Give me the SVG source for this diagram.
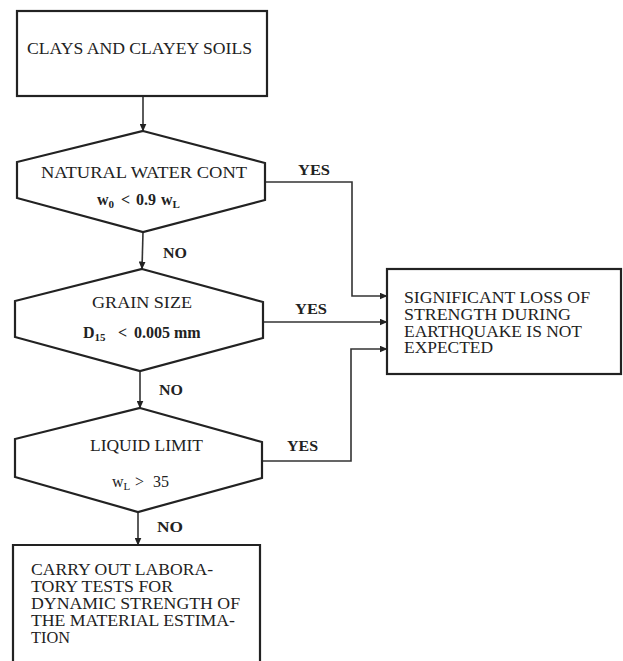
<svg xmlns="http://www.w3.org/2000/svg" width="623" height="661" viewBox="0 0 623 661">
<defs>
<marker id="arr" markerWidth="8" markerHeight="7" refX="7.5" refY="3.5" orient="auto" markerUnits="userSpaceOnUse">
<path d="M0,0 L8,3.5 L0,7 Z" fill="#222"/>
</marker>
<style>
.shape{fill:#fff;stroke:#222;stroke-width:2.2;stroke-linejoin:miter}
.conn{fill:none;stroke:#333;stroke-width:1.6}
.t{font-family:"Liberation Serif","Times New Roman",serif;fill:#222;font-size:16px}
.lbl{font-family:"Liberation Serif","Times New Roman",serif;fill:#222;font-size:15px;font-weight:bold}
.f{font-family:"Liberation Serif","Times New Roman",serif;fill:#222;font-size:16px;font-weight:bold}
.sub{font-size:11px}
</style>
</defs>
<rect width="623" height="661" fill="#fff"/>
<g id="connectors">
<line class="conn" x1="143" y1="96" x2="143" y2="131" marker-end="url(#arr)"/>
<line class="conn" x1="143" y1="232" x2="142" y2="269" marker-end="url(#arr)"/>
<line class="conn" x1="140" y1="371" x2="140" y2="408" marker-end="url(#arr)"/>
<line class="conn" x1="138" y1="512" x2="138" y2="545" marker-end="url(#arr)"/>
<polyline class="conn" points="265,182 352,182 352,296 387,296" marker-end="url(#arr)"/>
<line class="conn" x1="263" y1="322" x2="387" y2="322" marker-end="url(#arr)"/>
<polyline class="conn" points="263,461 351,461 351,349 387,349" marker-end="url(#arr)"/>
<text class="lbl" x="298" y="175" textLength="32" lengthAdjust="spacingAndGlyphs">YES</text>
<text class="lbl" x="295" y="314" textLength="32" lengthAdjust="spacingAndGlyphs">YES</text>
<text class="lbl" x="287" y="451" textLength="31" lengthAdjust="spacingAndGlyphs">YES</text>
<text class="lbl" x="163" y="258" textLength="24" lengthAdjust="spacingAndGlyphs">NO</text>
<text class="lbl" x="159" y="395" textLength="24" lengthAdjust="spacingAndGlyphs">NO</text>
<text class="lbl" x="157" y="532" textLength="26" lengthAdjust="spacingAndGlyphs">NO</text>
</g>
<g id="start">
<rect class="shape" x="17" y="11" width="250" height="85"/>
<text class="t" x="27" y="54" font-size="17" textLength="225" lengthAdjust="spacingAndGlyphs">CLAYS AND CLAYEY SOILS</text>
</g>
<g id="decision-water">
<polygon class="shape" points="143,131 265,163 265,200 143,232 17,198 17,162"/>
<text class="t" x="41" y="178" font-size="17" textLength="206" lengthAdjust="spacingAndGlyphs">NATURAL WATER CONT</text>
<text class="f" x="97" y="205">w<tspan class="sub" dy="3">0</tspan><tspan x="121" dy="-3">&lt;</tspan><tspan x="136">0.9</tspan><tspan x="161">w</tspan><tspan class="sub" dy="3">L</tspan></text>
</g>
<g id="decision-grain">
<polygon class="shape" points="142,269 263,302 263,338 140,371 15,337 15,301"/>
<text class="t" x="92" y="308" font-size="17" textLength="100" lengthAdjust="spacingAndGlyphs">GRAIN SIZE</text>
<text class="f" x="83" y="338" font-size="17">D<tspan class="sub" dy="3">15</tspan><tspan x="118" dy="-3">&lt;</tspan><tspan x="134">0.005 mm</tspan></text>
</g>
<g id="decision-liquid">
<polygon class="shape" points="140,408 262,442 262,478 138,512 15,477 15,439"/>
<text class="t" x="90" y="451" font-size="17" textLength="113" lengthAdjust="spacingAndGlyphs">LIQUID LIMIT</text>
<text class="t" x="112" y="487" font-size="17">w<tspan class="sub" dy="3">L</tspan><tspan x="135" dy="-3">&gt;</tspan><tspan x="153">35</tspan></text>
</g>
<g id="result-no-loss">
<rect class="shape" x="387" y="269" width="234" height="105"/>
<text class="t" x="404" y="303" font-size="17" textLength="186" lengthAdjust="spacingAndGlyphs">SIGNIFICANT LOSS OF</text>
<text class="t" x="404" y="320" font-size="17" textLength="167" lengthAdjust="spacingAndGlyphs">STRENGTH DURING</text>
<text class="t" x="404" y="337" font-size="17" textLength="178" lengthAdjust="spacingAndGlyphs">EARTHQUAKE IS NOT</text>
<text class="t" x="404" y="353" font-size="17" textLength="89" lengthAdjust="spacingAndGlyphs">EXPECTED</text>
</g>
<g id="result-lab-tests">
<path class="shape" d="M13,670 V545 H260 V670"/>
<text class="t" x="31" y="575" font-size="17" textLength="182" lengthAdjust="spacingAndGlyphs">CARRY OUT LABORA-</text>
<text class="t" x="31" y="592" font-size="17" textLength="142" lengthAdjust="spacingAndGlyphs">TORY TESTS FOR</text>
<text class="t" x="31" y="609" font-size="17" textLength="209" lengthAdjust="spacingAndGlyphs">DYNAMIC STRENGTH OF</text>
<text class="t" x="31" y="626" font-size="17" textLength="204" lengthAdjust="spacingAndGlyphs">THE MATERIAL ESTIMA-</text>
<text class="t" x="31" y="643" font-size="17" textLength="39" lengthAdjust="spacingAndGlyphs">TION</text>
</g>
</svg>
